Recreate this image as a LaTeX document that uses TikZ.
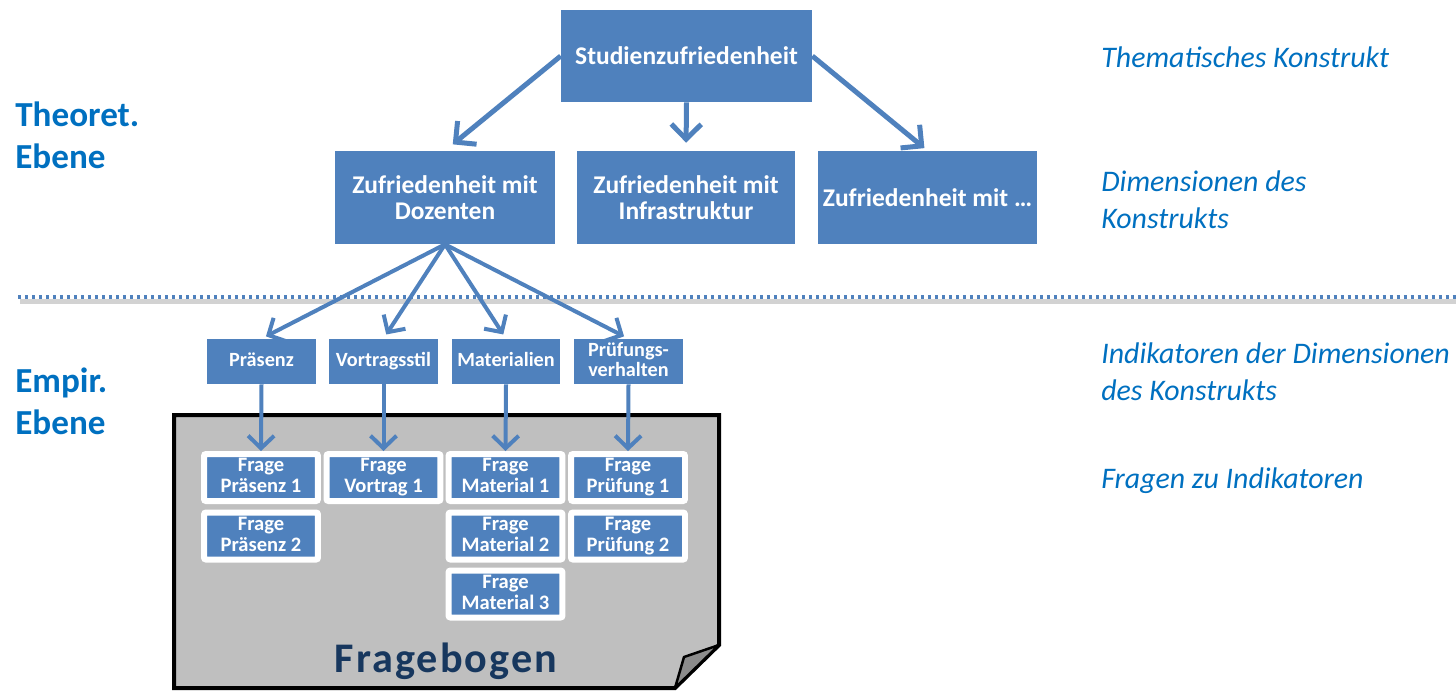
\documentclass[tikz,border=0pt]{standalone}
\usepackage{fontspec}
\setmainfont{Carlito}
\usetikzlibrary{arrows.meta,calc}
\definecolor{boxblue}{HTML}{4F81BD}
\definecolor{lblblue}{HTML}{0070C0}
\definecolor{navy}{HTML}{17375E}
\definecolor{pagegray}{HTML}{BFBFBF}
\definecolor{foldgray}{HTML}{8C8C8C}
\begin{document}
\begin{tikzpicture}[x=0.02cm,y=-0.02cm,
  bigbox/.style={fill=boxblue, text=white, align=center, inner sep=0pt,
    font=\bfseries\fontsize{14.5pt}{14.7pt}\selectfont},
  indbox/.style={fill=boxblue, text=white, align=center, inner sep=0pt,
    minimum width=2.18cm, minimum height=0.9cm,
    execute at end node={\vphantom{g}},
    font=\bfseries\fontsize{11.5pt}{11.3pt}\selectfont},
  qbox/.style={fill=boxblue, text=white, align=center, inner sep=0pt,
    draw=white, line width=0.12cm, rounded corners=0.04cm,
    minimum width=2.28cm, minimum height=0.94cm,
    execute at end node={\vphantom{g}},
    font=\bfseries\fontsize{11.7pt}{12pt}\selectfont},
  leftlbl/.style={text=lblblue, align=left, inner sep=0pt, anchor=base west,
    font=\bfseries\fontsize{20pt}{23.8pt}\selectfont},
  rightlbl/.style={text=lblblue, align=left, inner sep=0pt, anchor=base west,
    font=\itshape\fontsize{17pt}{20.6pt}\selectfont},
  arrT/.style={draw=boxblue, line width=0.1cm,
    -{Straight Barb[length=0.3cm,width=0.6cm]}},
  arrL/.style={draw=boxblue, line width=0.08cm,
    -{Straight Barb[length=0.25cm,width=0.52cm]}},
  sepline/.style={draw=boxblue, line width=0.07cm, dash pattern=on 0.06cm off 0.08cm}
]
\useasboundingbox (0,0) rectangle (1456,691);

% page
\draw[line width=0.08cm, fill=pagegray, line join=miter]
  (174,415) -- (719,415) -- (719,645) -- (675,688) -- (174,688) -- cycle;
\draw[line width=0.05cm, fill=foldgray, line join=round]
  (719,645) -- (684,657) -- (675,688) -- cycle;
\node[font=\bfseries\fontsize{24pt}{28pt}\selectfont\addfontfeatures{LetterSpace=5},
  text=navy, inner sep=0pt, anchor=base] (fb) at (446,672) {Fragebogen};

% separator
\draw[gray!35, line width=0.1cm] (20,301) -- (1456,301);
\draw[sepline] (18,297) -- (1456,297);

% top level
\node[bigbox, minimum width=5.02cm, minimum height=1.84cm] (top) at (686.5,56) {Studienzufriedenheit};
\node[bigbox, minimum width=4.4cm, minimum height=1.86cm] (doz) at (445,197.5) {Zufriedenheit mit\\Dozenten};
\node[bigbox, minimum width=4.36cm, minimum height=1.86cm] (inf) at (686,197.5) {Zufriedenheit mit\\Infrastruktur};
\node[bigbox, minimum width=4.38cm, minimum height=1.86cm] (mit) at (927.5,197.5) {Zufriedenheit mit \ldots};

% indicators
\node[indbox] (praes) at (261.5,361.5) {Präsenz};
\node[indbox] (vort) at (383.5,361.5) {Vortragsstil};
\node[indbox] (mat) at (506,361.5) {Materialien};
\node[indbox] (pruef) at (628.5,361.5) {Prüfungs-\\verhalten};

% questions
\node[qbox] (qp1) at (261,477.5) {Frage\\Präsenz 1};
\node[qbox] (qp2) at (261,536) {Frage\\Präsenz 2};
\node[qbox] (qv1) at (383.5,477.5) {Frage\\Vortrag 1};
\node[qbox] (qm1) at (505.5,477.5) {Frage\\Material 1};
\node[qbox] (qm2) at (505.5,536) {Frage\\Material 2};
\node[qbox] (qm3) at (505.5,594) {Frage\\Material 3};
\node[qbox] (qr1) at (628,477.5) {Frage\\Prüfung 1};
\node[qbox] (qr2) at (628,536) {Frage\\Prüfung 2};

% arrows
\draw[arrT, shorten >=0.2cm] (top.west) -- (doz.north);
\draw[arrT, shorten >=0.16cm] (top.south) -- (inf.north);
\draw[arrT, shorten >=0.08cm] (top.east) -- (mit.north);
\draw[arrL, shorten >=0.1cm] (doz.south) -- (praes.north);
\draw[arrL, shorten >=0.1cm] (doz.south) -- (vort.north);
\draw[arrL, shorten >=0.1cm] (doz.south) -- (mat.north);
\draw[arrL, shorten >=0.1cm] (doz.south) -- (pruef.north);
\draw[arrL] (praes.south) -- (qp1.north);
\draw[arrL] (vort.south) -- (qv1.north);
\draw[arrL] (mat.south) -- (qm1.north);
\draw[arrL] (pruef.south) -- (qr1.north);

% labels (base anchor = last line)
\node[leftlbl] (theo) at (15,168) {Theoret.\\Ebene};
\node[leftlbl] (emp) at (15,434) {Empir.\\Ebene};
\node[rightlbl] (r1) at (1101,67) {Thematisches Konstrukt};
\node[rightlbl] (r2) at (1101,228) {Dimensionen des\\Konstrukts};
\node[rightlbl] (r3) at (1101,400) {Indikatoren der Dimensionen\\des Konstrukts};
\node[rightlbl] (r4) at (1101,488) {Fragen zu Indikatoren};
\end{tikzpicture}
\end{document}
